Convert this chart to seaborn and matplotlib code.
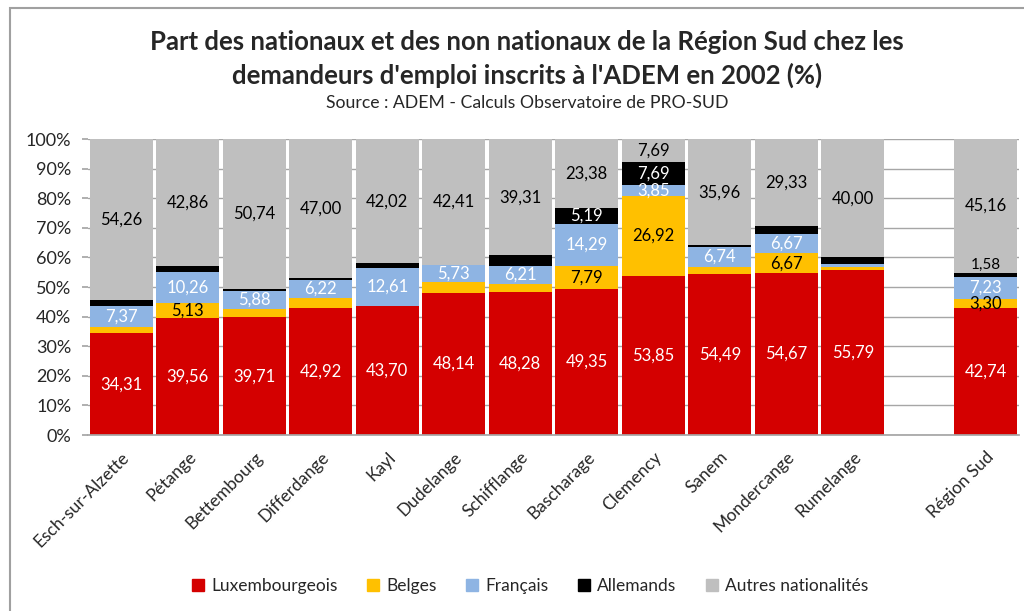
import matplotlib
matplotlib.use("Agg")
import matplotlib.pyplot as plt
from matplotlib.patches import Rectangle
import seaborn as sns
import pandas as pd
import numpy as np

communes = ["Esch-sur-Alzette", "Pétange", "Bettembourg", "Differdange", "Kayl",
            "Dudelange", "Schifflange", "Bascharage", "Clemency", "Sanem",
            "Mondercange", "Rumelange", "Région Sud"]
luxembourgeois = [34.31, 39.56, 39.71, 42.92, 43.70, 48.14, 48.28, 49.35, 53.85, 54.49, 54.67, 55.79, 42.74]
belges         = [2.03, 5.13, 2.94, 3.38, 0.00, 3.44, 2.76, 7.79, 26.92, 2.25, 6.67, 1.05, 3.30]
francais       = [7.37, 10.26, 5.88, 6.22, 12.61, 5.73, 6.21, 14.29, 3.85, 6.74, 6.67, 1.05, 7.23]
allemands      = [2.03, 2.19, 0.73, 0.48, 1.67, 0.28, 3.44, 5.19, 7.69, 0.56, 2.66, 2.11, 1.58]
autres         = [54.26, 42.86, 50.74, 47.00, 42.02, 42.41, 39.31, 23.38, 7.69, 35.96, 29.33, 40.00, 45.16]

# which segments carry a printed value in the original
lab_lux = [1] * 13
lab_bel = [0, 1, 0, 0, 0, 0, 0, 1, 1, 0, 1, 0, 1]
lab_fra = [1, 1, 1, 1, 1, 1, 1, 1, 1, 1, 1, 0, 1]
lab_all = [0, 0, 0, 0, 0, 0, 0, 1, 1, 0, 0, 0, 1]
lab_aut = [1] * 13

series_names = ["Luxembourgeois", "Belges", "Français", "Allemands", "Autres nationalités"]
series_vals = [luxembourgeois, belges, francais, allemands, autres]
series_labs = [lab_lux, lab_bel, lab_fra, lab_all, lab_aut]
colors = ["#D40000", "#FFC000", "#8EB4E3", "#000000", "#BFBFBF"]
text_colors = ["white", "black", "white", "white", "black"]

gap = " "
order = communes[:-1] + [gap] + communes[-1:]

rows = []
for name, vals in zip(series_names, series_vals):
    for c, v in zip(communes, vals):
        rows.append({"commune": c, "serie": name, "value": v})
df = pd.DataFrame(rows)
df["serie"] = pd.Categorical(df["serie"], series_names, ordered=True)
df = df.sort_values(["commune", "serie"])
df["top"] = df.groupby("commune")["value"].cumsum()
df["bottom"] = df["top"] - df["value"]

sns.set_theme(style="white")
plt.rcParams["font.family"] = ["Lato", "DejaVu Sans"]

fig = plt.figure(figsize=(10.24, 6.11), dpi=100)
ax = fig.add_axes([88 / 1024, 1 - 435 / 611, (1019 - 88) / 1024, (435 - 139) / 611])

handles = {}
for name, col in reversed(list(zip(series_names, colors))):
    sub = df[df["serie"] == name]
    sns.barplot(data=sub, x="commune", y="top", order=order, color=col,
                saturation=1, width=0.95, errorbar=None, ax=ax, zorder=2,
                linewidth=0)
    handles[name] = Rectangle((0, 0), 1, 1, color=col)

# value labels
pos = {c: i for i, c in enumerate(order)}
for name, tc, labs in zip(series_names, text_colors, series_labs):
    sub = df[df["serie"] == name]
    for c, lab in zip(communes, labs):
        if not lab:
            continue
        r = sub[sub["commune"] == c].iloc[0]
        txt = f"{r['value']:.2f}".replace(".", ",")
        if name == "Allemands" and c == "Région Sud":
            ax.text(pos[c], r["top"] + 0.2, txt, ha="center", va="bottom",
                    color="black", fontsize=11, zorder=5)
        else:
            y = r["bottom"] + r["value"] / 2
            ax.text(pos[c], y, txt, ha="center", va="center", color=tc,
                    fontsize=12, zorder=5)

ax.set_ylim(0, 100)
ax.set_xlim(-0.5, len(order) - 0.5)
ax.set_yticks(np.arange(0, 101, 10))
ax.set_yticklabels([f"{v}%" for v in range(0, 101, 10)], fontsize=13)
ax.yaxis.grid(True, color="#A6A6A6", linewidth=1, zorder=0)
ax.set_axisbelow(True)
ax.set_xlabel("")
ax.set_ylabel("")
ax.set_xticks(range(len(order)))
ax.set_xticklabels(order, rotation=45, ha="right", rotation_mode="anchor", fontsize=12.5)
ax.tick_params(axis="x", length=0, pad=10)
ax.tick_params(axis="y", length=4, color="#A6A6A6", left=True, pad=8)
for s in ["top", "right"]:
    ax.spines[s].set_visible(False)
ax.spines["left"].set_visible(False)
ax.spines["bottom"].set_color("#A6A6A6")

fig.legend([handles[n] for n in series_names], series_names, loc="center",
           bbox_to_anchor=(530 / 1024, 1 - 586 / 611), ncol=5, frameon=False,
           fontsize=12.5, handlelength=0.7, handleheight=0.7, handletextpad=0.4,
           columnspacing=1.7)

fig.text(527 / 1024, 1 - 42 / 611,
         "Part des nationaux et des non nationaux de la Région Sud chez les",
         ha="center", va="center", fontsize=18.5, fontweight="bold")
fig.text(527 / 1024, 1 - 75 / 611,
         "demandeurs d'emploi inscrits à l'ADEM en 2002 (%)",
         ha="center", va="center", fontsize=18.5, fontweight="bold")
fig.text(527 / 1024, 1 - 103 / 611, "Source : ADEM - Calculs Observatoire de PRO-SUD",
         ha="center", va="center", fontsize=12.7)

fig.patches.append(Rectangle((10 / 1024, -0.1), 1.2, 1.1 - 8 / 611, transform=fig.transFigure,
                             fill=False, edgecolor="#A0A0A0", linewidth=1.5))

fig.savefig("out.png", dpi=100)
